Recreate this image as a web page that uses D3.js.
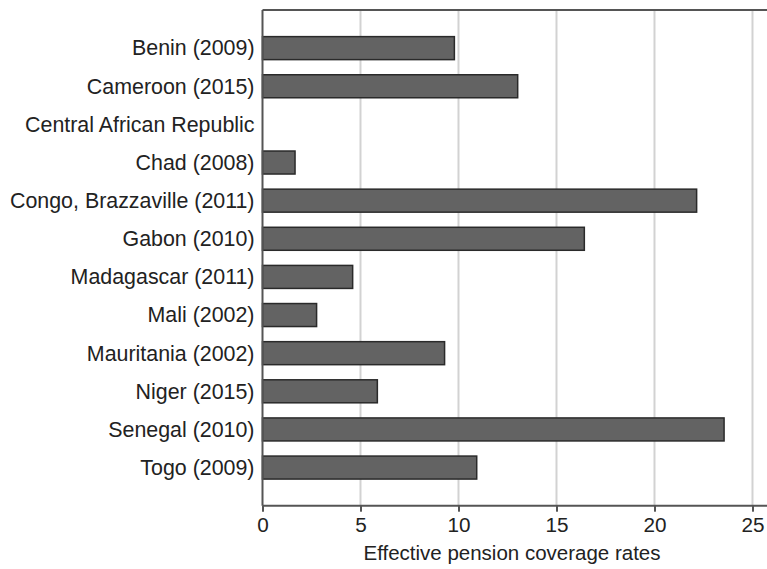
<!DOCTYPE html>
<html><head><meta charset="utf-8">
<script src="https://cdn.jsdelivr.net/npm/d3@7"></script>
<style>body{margin:0;background:#fff;} svg{display:block;font-family:"Liberation Sans",Arial,sans-serif;}</style>
</head><body>
<script>
const categories = ["Benin (2009)","Cameroon (2015)","Central African Republic","Chad (2008)","Congo, Brazzaville (2011)","Gabon (2010)","Madagascar (2011)","Mali (2002)","Mauritania (2002)","Niger (2015)","Senegal (2010)","Togo (2009)"];
const values = [9.79, 13.02, null, 1.66, 22.15, 16.42, 4.60, 2.76, 9.29, 5.86, 23.55, 10.93];
const xTicks = [0,5,10,15,20,25];
const xTitle = "Effective pension coverage rates";

const W = 767, H = 569;
const m = {left: 262.5, top: 10, right: 0, bottom: 63.3};
const svg = d3.select("body").append("svg").attr("width", W).attr("height", H);

const x = d3.scaleLinear().domain([0, 25.74]).range([m.left, W]);
const y = d3.scalePoint().domain(categories).range([m.top, H - m.bottom]).padding(1);
const bh = 23;
const yb = H - m.bottom;

// gridlines
svg.append("g").selectAll("line").data(xTicks.filter(d => d > 0)).join("line")
  .attr("x1", d => x(d)).attr("x2", d => x(d))
  .attr("y1", m.top).attr("y2", yb)
  .attr("stroke", "#d2d2d2").attr("stroke-width", 2);

// bars
const data = categories.map((c, i) => ({c, v: values[i]})).filter(d => d.v != null);
svg.append("g").selectAll("rect").data(data).join("rect")
  .attr("x", x(0)).attr("y", d => y(d.c) - bh / 2)
  .attr("width", d => x(d.v) - x(0)).attr("height", bh)
  .attr("fill", "#636363").attr("stroke", "#2a2a2a").attr("stroke-width", 1.5);

// frame lines: top, left
svg.append("line").attr("x1", m.left).attr("x2", W).attr("y1", m.top).attr("y2", m.top)
  .attr("stroke", "#555").attr("stroke-width", 2);
svg.append("line").attr("x1", m.left).attr("x2", m.left).attr("y1", m.top).attr("y2", yb)
  .attr("stroke", "#555").attr("stroke-width", 2);

// x axis
const xa = svg.append("g").attr("transform", `translate(0,${yb})`)
  .call(d3.axisBottom(x).tickValues(xTicks).tickSize(6).tickPadding(6).tickFormat(d3.format("d")));
xa.attr("font-size", null).attr("font-family", null);
xa.select(".domain").attr("stroke", "#555").attr("stroke-width", 2).attr("d", `M${m.left},0H${W}`);
xa.selectAll(".tick line").attr("stroke", "#555").attr("stroke-width", 2);
xa.selectAll(".tick text").style("font-size", "20.7px").attr("fill", "#222");

// y labels
const ya = svg.append("g").attr("transform", `translate(${m.left},0)`)
  .call(d3.axisLeft(y).tickSize(0).tickPadding(8));
ya.attr("font-size", null).attr("font-family", null);
ya.select(".domain").remove();
ya.selectAll(".tick text").style("font-size", "21.4px").attr("fill", "#222");

// x title
svg.append("text").attr("x", 512).attr("y", 560).attr("text-anchor", "middle")
  .style("font-size", "20.5px").attr("fill", "#222").text(xTitle);
</script>
</body></html>
